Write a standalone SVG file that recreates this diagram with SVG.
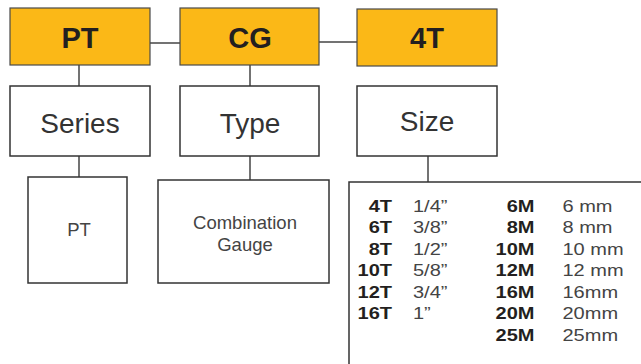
<svg xmlns="http://www.w3.org/2000/svg" width="641" height="364" viewBox="0 0 641 364">
<style>
.top{fill:#FBB817;stroke:#4a4a4a;stroke-width:1.2}
.box{fill:#fff;stroke:#333;stroke-width:1.5}
.hd{font-family:"Liberation Sans",Arial,sans-serif;font-weight:bold;font-size:29px;fill:#231f20;text-anchor:middle}
.lb{font-family:"Liberation Sans",Arial,sans-serif;font-size:28px;fill:#333;text-anchor:middle}
.sm{font-family:"Liberation Sans",Arial,sans-serif;font-size:18.5px;fill:#444;text-anchor:middle}
.code{font-family:"Liberation Sans",Arial,sans-serif;font-weight:bold;font-size:16px;fill:#231f20;text-anchor:end}
.val{font-family:"Liberation Sans",Arial,sans-serif;font-size:16px;fill:#444}
.cn{stroke:#444;stroke-width:1.5;fill:none}
</style>
<g id="connectors">
<line class="cn" x1="150" y1="43" x2="180" y2="43"/>
<line class="cn" x1="319" y1="42" x2="357" y2="42"/>
<line class="cn" x1="79" y1="65" x2="79" y2="86"/>
<line class="cn" x1="79" y1="156" x2="79" y2="177"/>
<line class="cn" x1="250" y1="65" x2="250" y2="86"/>
<line class="cn" x1="250" y1="156" x2="250" y2="180"/>
<line class="cn" x1="428" y1="156" x2="428" y2="182"/>
</g>
<g id="n-pt-code"><rect class="top" x="10" y="8" width="140" height="57"/><text class="hd" x="80" y="48">PT</text></g>
<g id="n-cg-code"><rect class="top" x="180" y="8" width="139" height="57"/><text class="hd" x="250" y="48">CG</text></g>
<g id="n-4t-code"><rect class="top" x="357" y="9" width="140" height="57"/><text class="hd" x="427" y="48">4T</text></g>
<g id="n-series"><rect class="box" x="10" y="86" width="140" height="70"/><text class="lb" x="80" y="133">Series</text></g>
<g id="n-type"><rect class="box" x="180" y="86" width="139" height="70"/><text class="lb" x="250" y="133">Type</text></g>
<g id="n-size"><rect class="box" x="357" y="86" width="140" height="70"/><text class="lb" x="427" y="131">Size</text></g>
<g id="n-pt"><rect class="box" x="28" y="177" width="99" height="106"/><text class="sm" x="79" y="236">PT</text></g>
<g id="n-combo"><rect class="box" x="158" y="180" width="171" height="103"/><text class="sm" x="245" y="229">Combination</text><text class="sm" x="245" y="251">Gauge</text></g>
<g id="n-table">
<rect class="box" x="349" y="182" width="300" height="200"/>
<g transform="scale(1.25 1)">
<text class="code" x="313.6" y="212">4T</text><text class="val" x="330.4" y="212">1/4”</text>
<text class="code" x="313.6" y="233.5">6T</text><text class="val" x="330.4" y="233.5">3/8”</text>
<text class="code" x="313.6" y="255">8T</text><text class="val" x="330.4" y="255">1/2”</text>
<text class="code" x="313.6" y="276.5">10T</text><text class="val" x="330.4" y="276.5">5/8”</text>
<text class="code" x="313.6" y="298">12T</text><text class="val" x="330.4" y="298">3/4”</text>
<text class="code" x="313.6" y="319.5">16T</text><text class="val" x="330.4" y="319.5">1”</text>
<text class="code" x="427.6" y="212">6M</text><text class="val" x="450" y="212">6 mm</text>
<text class="code" x="427.6" y="233.5">8M</text><text class="val" x="450" y="233.5">8 mm</text>
<text class="code" x="427.6" y="255">10M</text><text class="val" x="450" y="255">10 mm</text>
<text class="code" x="427.6" y="276.5">12M</text><text class="val" x="450" y="276.5">12 mm</text>
<text class="code" x="427.6" y="298">16M</text><text class="val" x="450" y="298">16mm</text>
<text class="code" x="427.6" y="319.5">20M</text><text class="val" x="450" y="319.5">20mm</text>
<text class="code" x="427.6" y="341">25M</text><text class="val" x="450" y="341">25mm</text>
</g>
</g>
</svg>
